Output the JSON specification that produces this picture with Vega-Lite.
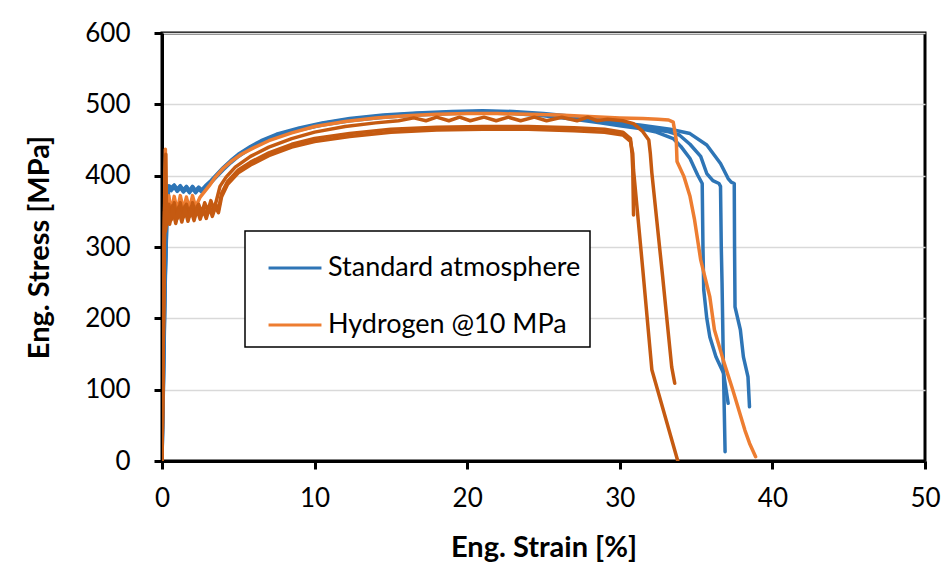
{
"$schema":"https://vega.github.io/schema/vega-lite/v6.json",
"width":763,"height":428,
"autosize":{"type":"none"},
"padding":{"left":162,"top":33,"right":19,"bottom":108},
"background":"white",
"datasets":{"d":[
{"c":"B1","x":0,"y":0},{"c":"B1","x":0.1,"y":120},{"c":"B1","x":0.2,"y":250},{"c":"B1","x":0.32,"y":340},{"c":"B1","x":0.42,"y":383},{"c":"B1","x":0.6,"y":379},{"c":"B1","x":0.8,"y":384},{"c":"B1","x":1.0,"y":378},{"c":"B1","x":1.2,"y":383},{"c":"B1","x":1.4,"y":377},{"c":"B1","x":1.6,"y":382},{"c":"B1","x":1.8,"y":376},{"c":"B1","x":2.0,"y":382},{"c":"B1","x":2.2,"y":376},{"c":"B1","x":2.4,"y":381},{"c":"B1","x":2.6,"y":377},{"c":"B1","x":2.9,"y":384},{"c":"B1","x":3.2,"y":390},{"c":"B1","x":3.6,"y":399},{"c":"B1","x":4.0,"y":408},{"c":"B1","x":4.5,"y":418},{"c":"B1","x":5.0,"y":427},{"c":"B1","x":5.8,"y":438},{"c":"B1","x":6.5,"y":446},{"c":"B1","x":7.5,"y":455},{"c":"B1","x":9.0,"y":464},{"c":"B1","x":10.5,"y":471},{"c":"B1","x":12.3,"y":477},{"c":"B1","x":14.5,"y":482},{"c":"B1","x":16.7,"y":485},{"c":"B1","x":19,"y":487},{"c":"B1","x":21,"y":488},{"c":"B1","x":23,"y":487},{"c":"B1","x":25,"y":484},{"c":"B1","x":27,"y":479},{"c":"B1","x":28.7,"y":474},{"c":"B1","x":30,"y":470},{"c":"B1","x":31.3,"y":466},{"c":"B1","x":32.4,"y":461},{"c":"B1","x":33.5,"y":452},{"c":"B1","x":34.0,"y":441},{"c":"B1","x":34.6,"y":424},{"c":"B1","x":35.1,"y":401},{"c":"B1","x":35.4,"y":389},{"c":"B1","x":35.45,"y":300},{"c":"B1","x":35.5,"y":240},{"c":"B1","x":35.7,"y":200},{"c":"B1","x":35.9,"y":174},{"c":"B1","x":36.3,"y":146},{"c":"B1","x":36.8,"y":123},{"c":"B1","x":37.0,"y":95},{"c":"B1","x":37.1,"y":81},
{"c":"B2","x":0,"y":0},{"c":"B2","x":0.1,"y":130},{"c":"B2","x":0.2,"y":260},{"c":"B2","x":0.3,"y":345},{"c":"B2","x":0.4,"y":385},{"c":"B2","x":0.6,"y":381},{"c":"B2","x":0.8,"y":386},{"c":"B2","x":1.0,"y":380},{"c":"B2","x":1.2,"y":385},{"c":"B2","x":1.4,"y":379},{"c":"B2","x":1.6,"y":384},{"c":"B2","x":1.8,"y":378},{"c":"B2","x":2.0,"y":384},{"c":"B2","x":2.2,"y":378},{"c":"B2","x":2.4,"y":383},{"c":"B2","x":2.6,"y":379},{"c":"B2","x":2.9,"y":386},{"c":"B2","x":3.2,"y":392},{"c":"B2","x":3.6,"y":401},{"c":"B2","x":4.0,"y":410},{"c":"B2","x":4.5,"y":420},{"c":"B2","x":5.0,"y":429},{"c":"B2","x":5.8,"y":440},{"c":"B2","x":6.5,"y":448},{"c":"B2","x":7.5,"y":457},{"c":"B2","x":9.0,"y":466},{"c":"B2","x":10.5,"y":473},{"c":"B2","x":12.3,"y":479},{"c":"B2","x":14.5,"y":484},{"c":"B2","x":16.7,"y":487},{"c":"B2","x":19,"y":489},{"c":"B2","x":21,"y":490},{"c":"B2","x":23,"y":489},{"c":"B2","x":25,"y":486},{"c":"B2","x":27,"y":481},{"c":"B2","x":28.7,"y":476},{"c":"B2","x":30,"y":472},{"c":"B2","x":31.3,"y":468},{"c":"B2","x":33.1,"y":462},{"c":"B2","x":33.9,"y":457},{"c":"B2","x":34.6,"y":444},{"c":"B2","x":35.3,"y":427},{"c":"B2","x":35.7,"y":403},{"c":"B2","x":36.1,"y":393},{"c":"B2","x":36.5,"y":389},{"c":"B2","x":36.6,"y":385},{"c":"B2","x":36.65,"y":300},{"c":"B2","x":36.7,"y":250},{"c":"B2","x":36.8,"y":120},{"c":"B2","x":36.9,"y":13},
{"c":"B3","x":0,"y":0},{"c":"B3","x":0.1,"y":110},{"c":"B3","x":0.2,"y":240},{"c":"B3","x":0.33,"y":345},{"c":"B3","x":0.45,"y":386},{"c":"B3","x":0.6,"y":383},{"c":"B3","x":0.8,"y":387},{"c":"B3","x":1.0,"y":381},{"c":"B3","x":1.2,"y":386},{"c":"B3","x":1.4,"y":380},{"c":"B3","x":1.6,"y":385},{"c":"B3","x":1.8,"y":379},{"c":"B3","x":2.0,"y":385},{"c":"B3","x":2.2,"y":379},{"c":"B3","x":2.4,"y":384},{"c":"B3","x":2.6,"y":380},{"c":"B3","x":2.9,"y":387},{"c":"B3","x":3.2,"y":393},{"c":"B3","x":3.6,"y":402},{"c":"B3","x":4.0,"y":411},{"c":"B3","x":4.5,"y":421},{"c":"B3","x":5.0,"y":430},{"c":"B3","x":5.8,"y":441},{"c":"B3","x":6.5,"y":449},{"c":"B3","x":7.5,"y":458},{"c":"B3","x":9.0,"y":467},{"c":"B3","x":10.5,"y":474},{"c":"B3","x":12.3,"y":480},{"c":"B3","x":14.5,"y":485},{"c":"B3","x":16.7,"y":488},{"c":"B3","x":19,"y":490},{"c":"B3","x":21,"y":491},{"c":"B3","x":23,"y":490},{"c":"B3","x":25,"y":487},{"c":"B3","x":27,"y":483},{"c":"B3","x":28.7,"y":478},{"c":"B3","x":30,"y":474},{"c":"B3","x":31.3,"y":471},{"c":"B3","x":32.0,"y":469},{"c":"B3","x":33.3,"y":465},{"c":"B3","x":34.6,"y":459},{"c":"B3","x":35.7,"y":443},{"c":"B3","x":36.6,"y":417},{"c":"B3","x":37.1,"y":396},{"c":"B3","x":37.3,"y":391},{"c":"B3","x":37.5,"y":389},{"c":"B3","x":37.52,"y":300},{"c":"B3","x":37.55,"y":216},{"c":"B3","x":37.9,"y":184},{"c":"B3","x":38.1,"y":146},{"c":"B3","x":38.4,"y":118},{"c":"B3","x":38.5,"y":76},
{"c":"O1","x":0,"y":0},{"c":"O1","x":0.1,"y":200},{"c":"O1","x":0.18,"y":380},{"c":"O1","x":0.22,"y":437},{"c":"O1","x":0.26,"y":380},{"c":"O1","x":0.3,"y":345},{"c":"O1","x":0.45,"y":372},{"c":"O1","x":0.6,"y":348},{"c":"O1","x":0.8,"y":371},{"c":"O1","x":1.0,"y":350},{"c":"O1","x":1.2,"y":372},{"c":"O1","x":1.4,"y":352},{"c":"O1","x":1.6,"y":370},{"c":"O1","x":1.8,"y":353},{"c":"O1","x":2.0,"y":372},{"c":"O1","x":2.2,"y":356},{"c":"O1","x":2.5,"y":370},{"c":"O1","x":2.8,"y":378},{"c":"O1","x":3.1,"y":386},{"c":"O1","x":3.5,"y":398},{"c":"O1","x":4.0,"y":410},{"c":"O1","x":4.6,"y":421},{"c":"O1","x":5.2,"y":430},{"c":"O1","x":6,"y":439},{"c":"O1","x":7,"y":449},{"c":"O1","x":8.5,"y":460},{"c":"O1","x":10,"y":469},{"c":"O1","x":12,"y":476},{"c":"O1","x":14,"y":481},{"c":"O1","x":16,"y":484},{"c":"O1","x":18,"y":486},{"c":"O1","x":20,"y":487},{"c":"O1","x":22,"y":487},{"c":"O1","x":24,"y":486},{"c":"O1","x":26,"y":485},{"c":"O1","x":28,"y":483},{"c":"O1","x":30,"y":481},{"c":"O1","x":31.5,"y":480},{"c":"O1","x":32.5,"y":479},{"c":"O1","x":33.2,"y":478},{"c":"O1","x":33.5,"y":475},{"c":"O1","x":33.7,"y":450},{"c":"O1","x":33.75,"y":420},{"c":"O1","x":34.2,"y":399},{"c":"O1","x":34.6,"y":371},{"c":"O1","x":34.9,"y":338},{"c":"O1","x":35.3,"y":282},{"c":"O1","x":35.9,"y":230},{"c":"O1","x":36.2,"y":184},{"c":"O1","x":36.8,"y":140},{"c":"O1","x":37.4,"y":100},{"c":"O1","x":38.2,"y":43},{"c":"O1","x":38.5,"y":25},{"c":"O1","x":38.9,"y":6},
{"c":"O3","x":0,"y":0},{"c":"O3","x":0.1,"y":220},{"c":"O3","x":0.2,"y":400},{"c":"O3","x":0.25,"y":430},{"c":"O3","x":0.3,"y":330},{"c":"O3","x":0.45,"y":360},{"c":"O3","x":0.6,"y":338},{"c":"O3","x":0.8,"y":362},{"c":"O3","x":1.0,"y":340},{"c":"O3","x":1.2,"y":362},{"c":"O3","x":1.4,"y":342},{"c":"O3","x":1.6,"y":360},{"c":"O3","x":1.8,"y":343},{"c":"O3","x":2.0,"y":362},{"c":"O3","x":2.2,"y":345},{"c":"O3","x":2.4,"y":360},{"c":"O3","x":2.6,"y":347},{"c":"O3","x":2.8,"y":362},{"c":"O3","x":3.0,"y":350},{"c":"O3","x":3.2,"y":365},{"c":"O3","x":3.4,"y":352},{"c":"O3","x":3.6,"y":368},{"c":"O3","x":3.8,"y":385},{"c":"O3","x":4.2,"y":398},{"c":"O3","x":4.8,"y":412},{"c":"O3","x":5.8,"y":427},{"c":"O3","x":7,"y":440},{"c":"O3","x":8.5,"y":452},{"c":"O3","x":10,"y":461},{"c":"O3","x":12,"y":469},{"c":"O3","x":14,"y":474},{"c":"O3","x":15.5,"y":477},{"c":"O3","x":16.5,"y":481},{"c":"O3","x":17.3,"y":477},{"c":"O3","x":18,"y":482},{"c":"O3","x":18.8,"y":477},{"c":"O3","x":19.5,"y":482},{"c":"O3","x":20.2,"y":477},{"c":"O3","x":21.1,"y":482},{"c":"O3","x":21.9,"y":477},{"c":"O3","x":22.7,"y":482},{"c":"O3","x":23.5,"y":477},{"c":"O3","x":24.4,"y":482},{"c":"O3","x":25.2,"y":477},{"c":"O3","x":26.2,"y":482},{"c":"O3","x":27.2,"y":477},{"c":"O3","x":27.9,"y":482},{"c":"O3","x":28.5,"y":477},{"c":"O3","x":29.2,"y":479},{"c":"O3","x":30.2,"y":477},{"c":"O3","x":30.9,"y":473},{"c":"O3","x":31.5,"y":462},{"c":"O3","x":31.9,"y":450},{"c":"O3","x":32.0,"y":431},{"c":"O3","x":32.1,"y":404},{"c":"O3","x":32.8,"y":260},{"c":"O3","x":33.4,"y":132},{"c":"O3","x":33.6,"y":109},
{"c":"O2a","x":0,"y":0},{"c":"O2a","x":0.1,"y":210},{"c":"O2a","x":0.18,"y":360},{"c":"O2a","x":0.24,"y":325},{"c":"O2a","x":0.35,"y":355},{"c":"O2a","x":0.5,"y":335},{"c":"O2a","x":0.7,"y":358},{"c":"O2a","x":0.9,"y":336},{"c":"O2a","x":1.1,"y":356},{"c":"O2a","x":1.3,"y":338},{"c":"O2a","x":1.5,"y":357},{"c":"O2a","x":1.7,"y":339},{"c":"O2a","x":1.9,"y":356},{"c":"O2a","x":2.1,"y":340},{"c":"O2a","x":2.3,"y":357},{"c":"O2a","x":2.5,"y":342},{"c":"O2a","x":2.7,"y":355},{"c":"O2a","x":2.9,"y":343},{"c":"O2a","x":3.1,"y":358},{"c":"O2a","x":3.3,"y":346},{"c":"O2a","x":3.5,"y":360},{"c":"O2a","x":3.7,"y":352},{"c":"O2a","x":3.9,"y":375},{"c":"O2a","x":4.3,"y":392},{"c":"O2a","x":5.0,"y":408},{"c":"O2a","x":5.8,"y":419},{"c":"O2a","x":7,"y":432},{"c":"O2a","x":8.5,"y":444},{"c":"O2a","x":10,"y":452},{"c":"O2a","x":12.3,"y":459},{"c":"O2a","x":15,"y":465},{"c":"O2a","x":18,"y":468},{"c":"O2a","x":21,"y":469},{"c":"O2a","x":24,"y":469},{"c":"O2a","x":27,"y":467},{"c":"O2a","x":29,"y":465},{"c":"O2a","x":30.2,"y":461},{"c":"O2a","x":30.7,"y":452},{"c":"O2a","x":30.8,"y":431},{"c":"O2a","x":30.85,"y":408},{"c":"O2a","x":30.9,"y":345},
{"c":"O2b","x":0,"y":0},{"c":"O2b","x":0.1,"y":200},{"c":"O2b","x":0.17,"y":350},{"c":"O2b","x":0.22,"y":322},{"c":"O2b","x":0.33,"y":350},{"c":"O2b","x":0.5,"y":332},{"c":"O2b","x":0.7,"y":354},{"c":"O2b","x":0.9,"y":333},{"c":"O2b","x":1.1,"y":352},{"c":"O2b","x":1.3,"y":335},{"c":"O2b","x":1.5,"y":353},{"c":"O2b","x":1.7,"y":336},{"c":"O2b","x":1.9,"y":352},{"c":"O2b","x":2.1,"y":337},{"c":"O2b","x":2.3,"y":353},{"c":"O2b","x":2.5,"y":339},{"c":"O2b","x":2.7,"y":352},{"c":"O2b","x":2.9,"y":340},{"c":"O2b","x":3.1,"y":355},{"c":"O2b","x":3.3,"y":343},{"c":"O2b","x":3.5,"y":356},{"c":"O2b","x":3.7,"y":348},{"c":"O2b","x":3.9,"y":370},{"c":"O2b","x":4.3,"y":388},{"c":"O2b","x":5.0,"y":404},{"c":"O2b","x":5.8,"y":415},{"c":"O2b","x":7,"y":428},{"c":"O2b","x":8.5,"y":440},{"c":"O2b","x":10,"y":448},{"c":"O2b","x":12.3,"y":455},{"c":"O2b","x":15,"y":461},{"c":"O2b","x":18,"y":464},{"c":"O2b","x":21,"y":465},{"c":"O2b","x":24,"y":465},{"c":"O2b","x":27,"y":463},{"c":"O2b","x":29,"y":461},{"c":"O2b","x":30.2,"y":457},{"c":"O2b","x":30.7,"y":448},{"c":"O2b","x":30.85,"y":431},{"c":"O2b","x":30.9,"y":408},{"c":"O2b","x":31.5,"y":270},{"c":"O2b","x":32.1,"y":128},{"c":"O2b","x":33.8,"y":0}
],
"g":[{"c":"B1","g":"Standard atmosphere"},{"c":"B2","g":"Standard atmosphere"},{"c":"B3","g":"Standard atmosphere"},{"c":"O1","g":"Hydrogen @10 MPa"},{"c":"O2a","g":"Hydrogen @10 MPa"},{"c":"O2b","g":"Hydrogen @10 MPa"},{"c":"O3","g":"Hydrogen @10 MPa"}]
},
"data":{"name":"d"},
"transform":[{"lookup":"c","from":{"data":{"name":"g"},"key":"c","fields":["g"]}}],
"encoding":{
"x":{"field":"x","type":"quantitative","scale":{"domain":[0,50],"nice":false,"zero":false},
"axis":{"values":[0,10,20,30,40,50],"grid":false,"title":"Eng. Strain [%]","labelPadding":16,"titlePadding":22,"labelFlush":false}},
"y":{"field":"y","type":"quantitative","scale":{"domain":[0,600],"nice":false},
"axis":{"values":[0,100,200,300,400,500,600],"grid":true,"title":"Eng. Stress [MPa]","labelPadding":24,"titlePadding":30}}
},
"layer":[
{"transform":[{"filter":{"field":"c","oneOf":["B1","B2","B3"]}}],
"mark":{"type":"line","strokeWidth":3.5,"strokeJoin":"round","strokeCap":"round","clip":true},
"encoding":{"detail":{"field":"c"},"color":{"field":"g","type":"nominal","scale":{"domain":["Standard atmosphere","Hydrogen @10 MPa"],"range":["#2E75B6","#ED7D31"]},
"legend":{"title":null,"orient":"none","legendX":83,"legendY":198,"labelExpr":"datum.label + '\u00a0\u00a0'"}}}},
{"transform":[{"filter":{"field":"c","equal":"O1"}}],
"mark":{"type":"line","strokeWidth":3.5,"strokeJoin":"round","strokeCap":"round","clip":true},
"encoding":{"detail":{"field":"c"},"color":{"field":"g","type":"nominal"}}},
{"transform":[{"filter":{"field":"c","oneOf":["O2a","O2b","O3"]}}],
"mark":{"type":"line","strokeWidth":3.5,"strokeJoin":"round","strokeCap":"round","color":"#C55A11","clip":true},
"encoding":{"detail":{"field":"c"}}}
],
"config":{
"view":{"stroke":"black","strokeWidth":3},
"axis":{"domainColor":"black","domainWidth":3,"tickColor":"black","tickWidth":3,"tickSize":8,"labelFont":"Lato","labelFontSize":26,"labelColor":"black","titleFont":"Lato","titleFontSize":29,"titleFontWeight":"bold","titleColor":"black","gridColor":"#D9D9D9","gridWidth":1.5},
"legend":{"strokeColor":"black","strokeWidth":1.5,"fillColor":"white","padding":9,"rowPadding":16,"symbolType":"stroke","symbolStrokeWidth":3,"symbolSize":2800,"symbolOffset":13,"labelFont":"Lato","labelFontSize":27,"labelColor":"black","labelOffset":5,"labelLimit":400}
}
}
